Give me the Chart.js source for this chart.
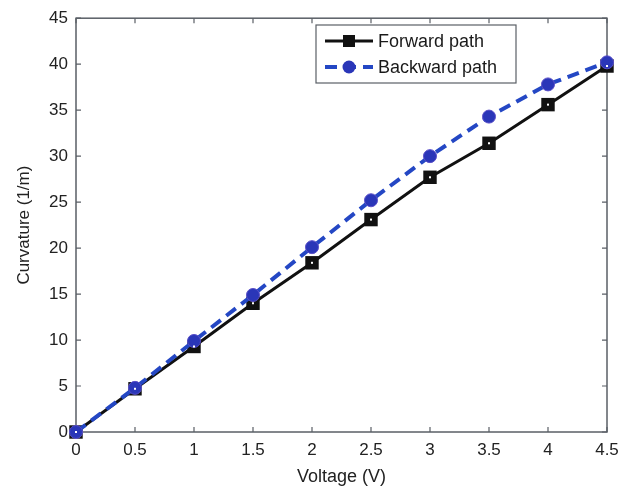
<!DOCTYPE html>
<html>
<head>
<meta charset="utf-8">
<script src="https://cdn.jsdelivr.net/npm/chart.js@4/dist/chart.umd.min.js"></script>
<style>
    html, body { margin: 0; padding: 0; background: #fff; }
    #wrap { width: 634px; height: 492px; }
</style>
</head>
<body>
<div id="wrap"><canvas id="curvChart"></canvas></div>
<script>
// Data
const voltage = [0, 0.5, 1, 1.5, 2, 2.5, 3, 3.5, 4, 4.5];
const forwardPath = [0, 4.7, 9.3, 14.0, 18.4, 23.1, 27.7, 31.4, 35.6, 39.8];
const backwardPath = [0, 4.8, 9.9, 14.9, 20.1, 25.2, 30.0, 34.3, 37.8, 40.2];
const seriesNames = ['Forward path', 'Backward path'];

const toPoints = (ys) => voltage.map((x, i) => ({ x: x, y: ys[i] }));

const axisColor = '#5a5f66';
const fontFamily = '"Liberation Sans", Arial, sans-serif';

// MATLAB-ish frame: box, inward ticks, center dots on squares and legend inside
const matlabFrame = {
    id: 'matlabFrame',
    beforeDatasetsDraw(chart) {
        const ctx = chart.ctx;
        const area = chart.chartArea;
        const xs = chart.scales.x;
        const ys = chart.scales.y;

        ctx.save();
        ctx.strokeStyle = axisColor;
        ctx.lineWidth = 1.5;
        ctx.strokeRect(area.left, area.top, area.right - area.left, area.bottom - area.top);

        ctx.lineWidth = 1.2;
        const tl = 5;
        xs.ticks.forEach((t) => {
            const px = xs.getPixelForValue(t.value);
            ctx.beginPath();
            ctx.moveTo(px, area.bottom);
            ctx.lineTo(px, area.bottom - tl);
            ctx.moveTo(px, area.top);
            ctx.lineTo(px, area.top + tl);
            ctx.stroke();
        });
        ys.ticks.forEach((t) => {
            const py = ys.getPixelForValue(t.value);
            ctx.beginPath();
            ctx.moveTo(area.left, py);
            ctx.lineTo(area.left + tl, py);
            ctx.moveTo(area.right, py);
            ctx.lineTo(area.right - tl, py);
            ctx.stroke();
        });
        ctx.restore();
    },
    afterDatasetsDraw(chart) {
        const ctx = chart.ctx;

        // white dots in square markers
        const meta = chart.getDatasetMeta(0);
        ctx.save();
        ctx.fillStyle = '#ffffff';
        meta.data.forEach((pt) => {
            ctx.fillRect(pt.x - 1, pt.y - 1, 2, 2);
        });
        ctx.restore();

        // legend box
        const lx = 316, ly = 25, lw = 200, lh = 58;
        ctx.save();
        ctx.fillStyle = '#ffffff';
        ctx.fillRect(lx, ly, lw, lh);
        ctx.strokeStyle = axisColor;
        ctx.lineWidth = 1.2;
        ctx.strokeRect(lx, ly, lw, lh);

        ctx.font = '18px ' + fontFamily;
        ctx.textBaseline = 'middle';
        ctx.fillStyle = '#1a1a1a';

        chart.data.datasets.forEach((ds, i) => {
            const cy = ly + 16 + i * 26;
            ctx.strokeStyle = ds.borderColor;
            ctx.lineWidth = ds.borderWidth;
            ctx.setLineDash(ds.borderDash || []);
            ctx.beginPath();
            ctx.moveTo(lx + 9, cy);
            ctx.lineTo(lx + 57, cy);
            ctx.stroke();
            ctx.setLineDash([]);
            ctx.fillStyle = ds.pointBackgroundColor;
            if (ds.pointStyle === 'rect') {
                ctx.fillRect(lx + 27, cy - 6, 12, 12);
            } else {
                ctx.beginPath();
                ctx.arc(lx + 33, cy, 6.5, 0, Math.PI * 2);
                ctx.fill();
            }
            ctx.fillStyle = '#1a1a1a';
            ctx.fillText(ds.label, lx + 62, cy + 1);
        });
        ctx.restore();
    }
};

new Chart(document.getElementById('curvChart'), {
    type: 'line',
    data: {
        datasets: [
            {
                label: seriesNames[0],
                data: toPoints(forwardPath),
                borderColor: '#111111',
                borderWidth: 3,
                pointStyle: 'rect',
                pointRadius: 9.5,
                pointBackgroundColor: '#111111',
                pointBorderWidth: 0,
                clip: false,
                order: 1
            },
            {
                label: seriesNames[1],
                data: toPoints(backwardPath),
                borderColor: '#2447c4',
                borderWidth: 4,
                borderDash: [12, 7],
                pointStyle: 'circle',
                pointRadius: 6.5,
                pointBackgroundColor: '#2a36b8',
                pointBorderColor: '#5a4fc8',
                pointBorderWidth: 1,
                clip: false,
                order: 0
            }
        ]
    },
    options: {
        responsive: true,
        maintainAspectRatio: false,
        animation: false,
        layout: { padding: { top: 13, right: 27, left: 10, bottom: 0 } },
        plugins: {
            legend: { display: false },
            tooltip: { enabled: false }
        },
        scales: {
            x: {
                type: 'linear',
                min: 0,
                max: 4.5,
                grid: { display: false, drawTicks: false },
                border: { display: false },
                ticks: {
                    stepSize: 0.5,
                    color: '#222',
                    padding: 8,
                    font: { family: fontFamily, size: 17 },
                    callback: (v) => String(v)
                },
                title: {
                    display: true,
                    text: 'Voltage (V)',
                    color: '#222',
                    padding: { top: 4 },
                    font: { family: fontFamily, size: 18 }
                },
                afterFit: (scale) => { scale.height = 60; }
            },
            y: {
                min: 0,
                max: 45,
                grid: { display: false, drawTicks: false },
                border: { display: false },
                ticks: {
                    stepSize: 5,
                    color: '#222',
                    padding: 8,
                    font: { family: fontFamily, size: 17 }
                },
                title: {
                    display: true,
                    text: 'Curvature (1/m)',
                    color: '#222',
                    padding: { bottom: 4 },
                    font: { family: fontFamily, size: 17 }
                },
                afterFit: (scale) => { scale.width = 66; }
            }
        }
    },
    plugins: [matlabFrame]
});
</script>
</body>
</html>
